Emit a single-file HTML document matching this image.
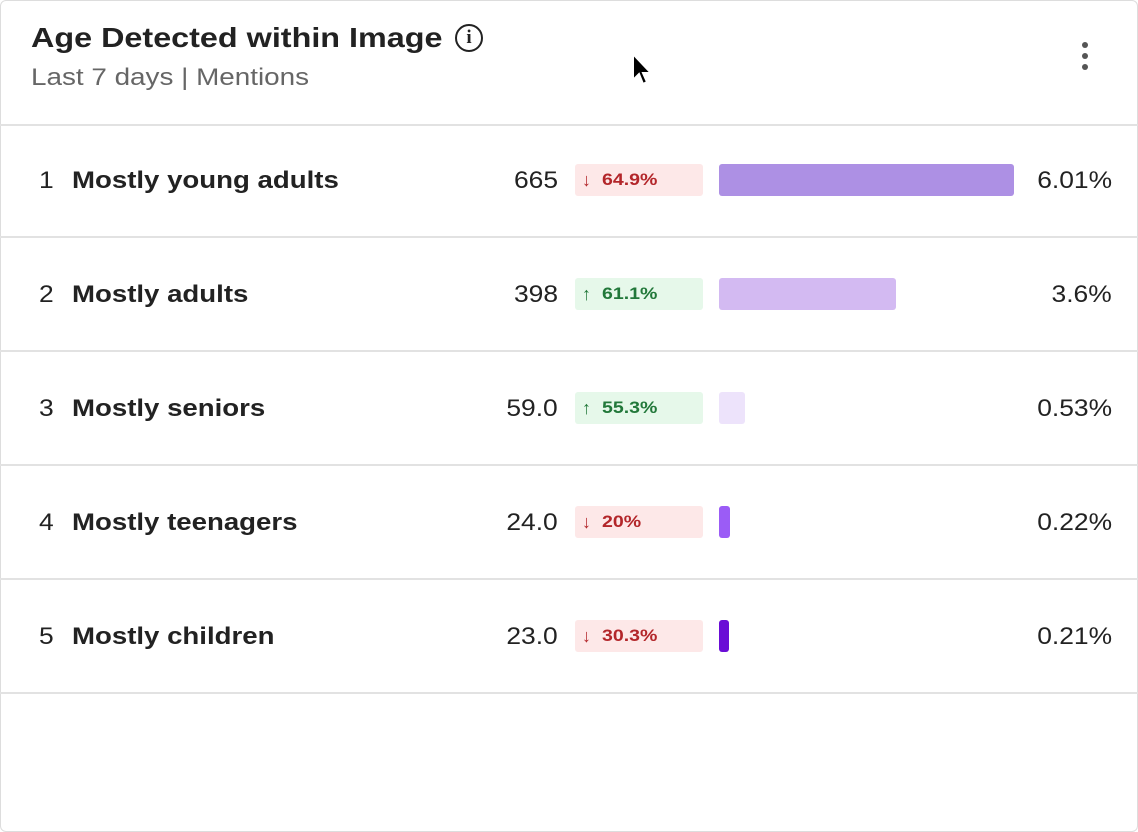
<!DOCTYPE html>
<html><head><meta charset="utf-8"><style>
body{margin:0;width:1138px;height:832px;background:#fff;font-family:"Liberation Sans",sans-serif;color:#222;position:relative;overflow:hidden}
.card{position:absolute;left:0;top:0;width:1136px;height:830px;border:1px solid #ddd;border-radius:6px}
.t{position:absolute;left:31px;top:22px;font-size:28px;font-weight:bold;color:#222;transform:scaleX(1.155);transform-origin:left}
.s{position:absolute;left:31px;top:64px;font-size:24px;color:#666;transform:scaleX(1.16);transform-origin:left}
.info{position:absolute;left:455px;top:24px;width:28px;height:28px;border:2.5px solid #222;border-radius:50%;box-sizing:border-box;text-align:center;font:bold 19px "Liberation Serif",serif;line-height:23px}
.dots{position:absolute;left:1082px;top:42px;width:6px}
.dots i{display:block;width:6px;height:6px;border-radius:50%;background:#555;margin-bottom:5px}
.sep{position:absolute;left:0;width:1138px;height:2px;background:#e2e2e2}
.row{position:absolute;left:0;width:1138px;height:114px;font-size:24px}
.row span{position:absolute;top:1px;line-height:114px;transform:scaleX(1.1)}
.n{left:39px;transform-origin:left}.l{left:72px;font-weight:bold;transform-origin:left}
.row span.l{transform:scaleX(1.15)}
.v{right:580px;text-align:right;transform-origin:right}
.b{position:absolute;left:575px;top:41px;width:128px;height:32px;border-radius:3px;font-size:17px;font-weight:bold;line-height:32px}
.b em{font-style:normal;position:absolute;left:7px;top:0;font-size:18px;font-weight:bold}
.b b{position:absolute;left:27px;top:0;transform:scaleX(1.15);transform-origin:left}
.dn{background:#fde8e8;color:#b3262a}.up{background:#e6f8ea;color:#22783a}
.bar{position:absolute;left:719px;top:41px;height:32px;border-radius:3px}
.p{right:26px;text-align:right;transform-origin:right}
</style></head><body><div class="card"></div>
<div class="t">Age Detected within Image</div><div class="info">i</div>
<div class="s">Last 7 days | Mentions</div>
<div class="dots"><i></i><i></i><i></i></div>
<svg style="position:absolute;left:630px;top:52px" width="26" height="38" viewBox="0 0 26 38"><path d="M3 2 L3 28 L9 22 L13 32 L17 30 L13 21 L21 21 Z" fill="#000" stroke="#fff" stroke-width="2"/></svg>
<div class="sep" style="top:124px"></div>
<div class="row" style="top:123px"><span class="n">1</span><span class="l">Mostly young adults</span><span class="v">665</span><div class="b dn"><em>↓</em><b>64.9%</b></div><div class="bar" style="width:295px;background:#ad90e4"></div><span class="p">6.01%</span></div>
<div class="sep" style="top:236px"></div>
<div class="row" style="top:237px"><span class="n">2</span><span class="l">Mostly adults</span><span class="v">398</span><div class="b up"><em>↑</em><b>61.1%</b></div><div class="bar" style="width:177px;background:#d3baf2"></div><span class="p">3.6%</span></div>
<div class="sep" style="top:350px"></div>
<div class="row" style="top:351px"><span class="n">3</span><span class="l">Mostly seniors</span><span class="v">59.0</span><div class="b up"><em>↑</em><b>55.3%</b></div><div class="bar" style="width:26px;background:#ede3fb"></div><span class="p">0.53%</span></div>
<div class="sep" style="top:464px"></div>
<div class="row" style="top:465px"><span class="n">4</span><span class="l">Mostly teenagers</span><span class="v">24.0</span><div class="b dn"><em>↓</em><b>20%</b></div><div class="bar" style="width:11px;background:#9b5cf6"></div><span class="p">0.22%</span></div>
<div class="sep" style="top:578px"></div>
<div class="row" style="top:579px"><span class="n">5</span><span class="l">Mostly children</span><span class="v">23.0</span><div class="b dn"><em>↓</em><b>30.3%</b></div><div class="bar" style="width:10px;background:#6a0dd6"></div><span class="p">0.21%</span></div>
<div class="sep" style="top:692px"></div>
</body></html>
